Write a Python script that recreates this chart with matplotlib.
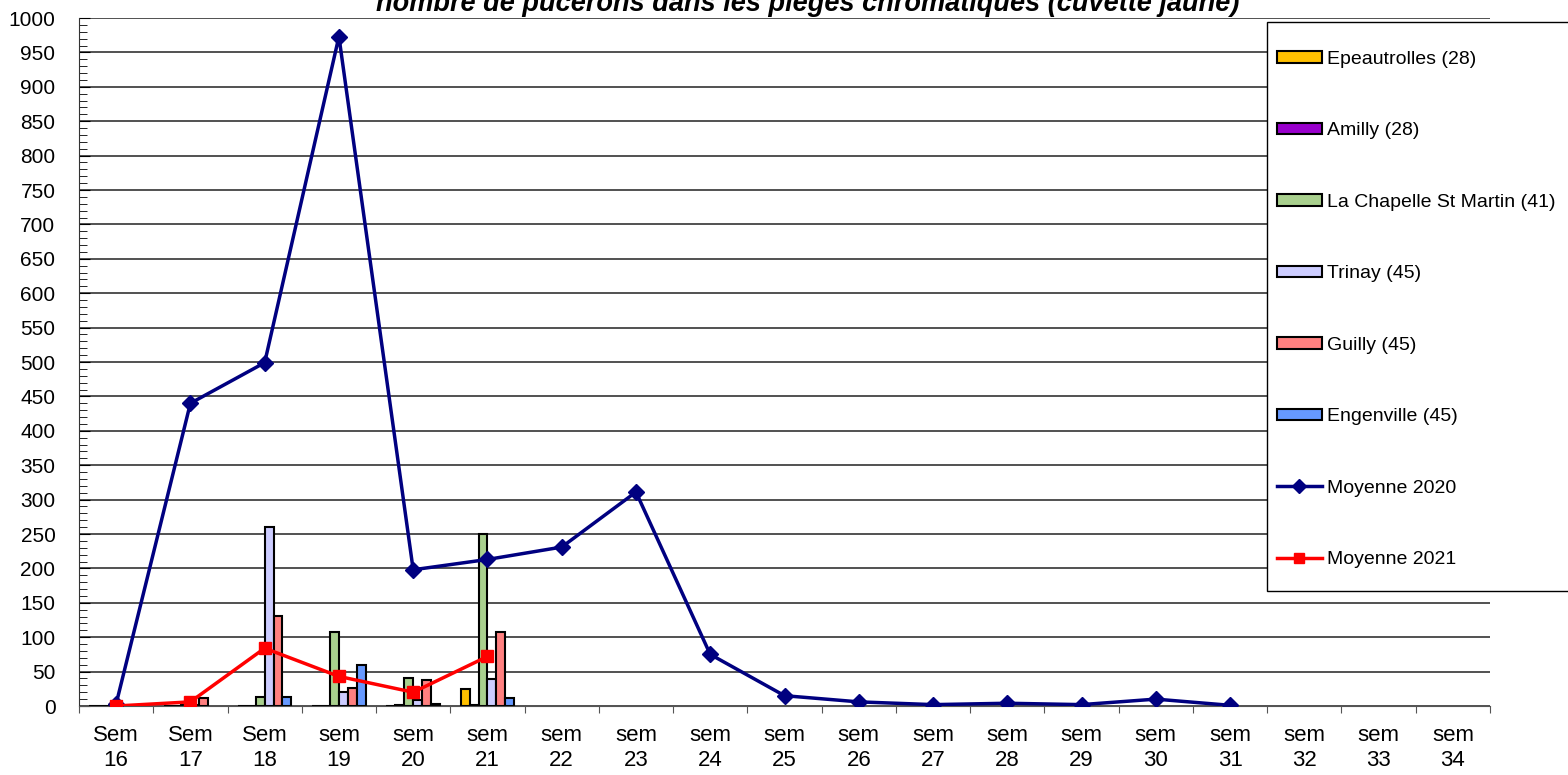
import numpy as np
import matplotlib
matplotlib.use("Agg")
import matplotlib.pyplot as plt
from matplotlib.patches import Patch, Rectangle
from matplotlib.lines import Line2D

plt.rcParams['font.family'] = ['Liberation Sans', 'DejaVu Sans']

# semaines
weeks = ['Sem\n16', 'Sem\n17', 'Sem\n18', 'sem\n19', 'sem\n20', 'sem\n21',
         'sem\n22', 'sem\n23', 'sem\n24', 'sem\n25', 'sem\n26', 'sem\n27',
         'sem\n28', 'sem\n29', 'sem\n30', 'sem\n31', 'sem\n32', 'sem\n33',
         'sem\n34']

nan = np.nan
# pieges (comptages 2021), semaines 16 a 21
epeautrolles = [0, 0, 0, 0, 0, 25] + [nan] * 13
amilly = [0, 0, 0, 0, 2, 1] + [nan] * 13
la_chapelle = [0, 1, 13, 107, 41, 250] + [nan] * 13
trinay = [0, 1, 260, 20, 8, 39] + [nan] * 13
guilly = [0, 12, 131, 26, 38, 108] + [nan] * 13
engenville = [0, nan, 13, 60, 3, 12] + [nan] * 13

moy_2020 = [3, 440, 499, 973, 198, 213, 231, 311, 75, 15, 6, 2, 4, 2, 10, 1,
            nan, nan, nan]
moy_2021 = [0, 6, 84, 43, 20, 72] + [nan] * 13

series = [
    ('Epeautrolles (28)', epeautrolles, '#FFC000'),
    ('Amilly (28)', amilly, '#9900CC'),
    ('La Chapelle St Martin (41)', la_chapelle, '#A9D08E'),
    ('Trinay (45)', trinay, '#CCCCFF'),
    ('Guilly (45)', guilly, '#FF8080'),
    ('Engenville (45)', engenville, '#6699FF'),
]

fig = plt.figure(figsize=(15.68, 7.75), dpi=100)
ax = fig.add_axes([79 / 1568, 1 - 706 / 775, (1490 - 79) / 1568, 688 / 775])

x = np.arange(len(weeks))
w = 0.12
for k, (name, vals, col) in enumerate(series):
    ax.bar(x + (k - 2.5) * w, vals, w, color=col, edgecolor='black',
           linewidth=1.5, zorder=2)

ax.plot(x, moy_2020, color='#000080', lw=2.5, marker='D', ms=8, zorder=3)
ax.plot(x, moy_2021, color='#FF0000', lw=2.5, marker='s', ms=8, zorder=4)

ax.set_xlim(-0.5, len(weeks) - 0.5)
ax.set_ylim(0, 1000)
ax.set_yticks(np.arange(0, 1001, 50))
ax.set_yticks(np.arange(0, 1001, 10), minor=True)
ax.yaxis.grid(True, color='#333333', lw=1.2, zorder=0)
ax.set_axisbelow(True)

ax.set_xticks(np.arange(-0.5, len(weeks) - 0.4, 1))
ax.set_xticklabels([])
ax.set_xticks(x, minor=True)
ax.set_xticklabels(weeks, minor=True, fontsize=16, linespacing=1.25)
ax.tick_params(axis='x', which='minor', length=0, pad=14)
ax.tick_params(axis='x', which='major', length=5, direction='out', color='#555555')
ax.tick_params(axis='y', which='major', length=8, direction='in',
               labelsize=15, pad=17)
ax.tick_params(axis='y', which='minor', length=6, direction='in')

for s in ['top', 'right']:
    ax.spines[s].set_visible(False)
ax.spines['left'].set_color('#333333')
ax.spines['bottom'].set_color('#555555')

# cadre de la legende (depasse a droite comme sur l'original)
fig.patches.append(Rectangle((1267 / 1568, 1 - 591 / 775), 0.25, 569 / 775,
                             transform=fig.transFigure, facecolor='white',
                             edgecolor='black', lw=1, zorder=5))

handles = [Patch(facecolor=c, edgecolor='black', linewidth=1.5) for _, _, c in series]
handles += [Line2D([], [], color='#000080', lw=2.5, marker='D', ms=7),
            Line2D([], [], color='#FF0000', lw=2.5, marker='s', ms=7)]
labels = [s[0] for s in series] + ['Moyenne 2020', 'Moyenne 2021']
leg = fig.legend(handles, labels, loc='upper left',
                 bbox_to_anchor=(1277 / 1568, 1 - 51 / 775),
                 fontsize=14, frameon=False, labelspacing=2.8,
                 handlelength=2.3, handleheight=0.52, handletextpad=0.28,
                 borderpad=0, borderaxespad=0)
leg.set_zorder(6)

fig.text(808 / 1568, 1 - 11 / 775,
         'nombre de pucerons dans les pièges chromatiques (cuvette jaune)',
         ha='center', va='baseline', fontsize=19.5, fontweight='bold',
         style='italic')

fig.savefig('out.png', dpi=100)
